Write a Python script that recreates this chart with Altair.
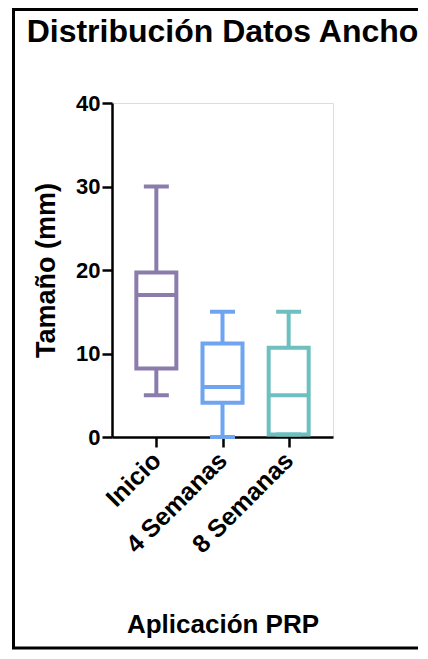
import altair as alt
import pandas as pd

categories = ["Inicio", "4 Semanas", "8 Semanas"]
mins = [5, 0, 0.3]
q1s = [8.2, 4.1, 0.3]
medians = [17, 6, 5]
q3s = [19.7, 11.2, 10.7]
maxs = [30, 15, 15]
colors = ["#8b7cab", "#6fa4f0", "#6ec0c0"]

y_ticks = [0, 10, 20, 30, 40]

df = pd.DataFrame({
    "grupo": categories,
    "min": mins,
    "q1": q1s,
    "mediana": medians,
    "q3": q3s,
    "max": maxs,
})

FONT = "Liberation Sans"
SW = 4

x_enc = alt.X(
    "grupo:N",
    sort=categories,
    scale=alt.Scale(type="point", padding=0.67),
    axis=alt.Axis(
        title="Aplicación PRP",
        titleFont=FONT, titleFontSize=26, titleFontWeight="bold", titleColor="black",
        titlePadding=54,
        labelFont=FONT, labelFontSize=25, labelFontWeight="bold", labelColor="black",
        labelAngle=-45, labelAlign="right", labelBaseline="middle", labelPadding=9,
        tickSize=10, tickWidth=2.5, tickColor="black",
        domainWidth=2.5, domainColor="black", grid=False,
    ),
)
color_enc = alt.Color("grupo:N", scale=alt.Scale(domain=categories, range=colors), legend=None)
y_scale = alt.Scale(domain=[0, 40], nice=False)
y_axis = alt.Axis(
    title="Tamaño (mm)", values=y_ticks,
    titleFont=FONT, titleFontSize=27, titleFontWeight="bold", titleColor="black",
    titlePadding=15,
    labelFont=FONT, labelFontSize=22, labelFontWeight="bold", labelColor="black",
    labelPadding=2,
    tickSize=10, tickWidth=2.5, tickColor="black",
    domainWidth=2.5, domainColor="black", grid=False,
)

base = alt.Chart(df)

box = base.mark_bar(size=40, filled=False, strokeWidth=SW, opacity=1).encode(
    x=x_enc,
    y=alt.Y("q1:Q", scale=y_scale, axis=y_axis),
    y2="q3:Q",
    stroke=color_enc,
)
upper = base.mark_rule(strokeWidth=SW, opacity=1).encode(x=x_enc, y=alt.Y("q3:Q", scale=y_scale), y2="max:Q", color=color_enc)
lower = base.mark_rule(strokeWidth=SW, opacity=1).encode(x=x_enc, y=alt.Y("min:Q", scale=y_scale), y2="q1:Q", color=color_enc)
median = base.mark_tick(size=40, thickness=SW, opacity=1).encode(x=x_enc, y=alt.Y("mediana:Q", scale=y_scale), color=color_enc)
cap_hi = base.mark_tick(size=25, thickness=SW, opacity=1).encode(x=x_enc, y=alt.Y("max:Q", scale=y_scale), color=color_enc)
cap_lo = base.mark_tick(size=25, thickness=SW, opacity=1).encode(x=x_enc, y=alt.Y("min:Q", scale=y_scale), color=color_enc)

frame = alt.Chart(alt.Data(values=[{"f": 1}])).mark_rect(
    filled=False, stroke="black", strokeWidth=3
).encode(
    x=alt.value(-98.5), x2=alt.value(340),
    y=alt.value(-93.5), y2=alt.value(545),
)

chart = alt.layer(lower, upper, cap_lo, cap_hi, box, median, frame).properties(
    width=221,
    height=334,
    title=alt.TitleParams(
        "Distribución Datos Ancho", font=FONT, fontSize=32, fontWeight="bold",
        color="black", anchor="middle", frame="group", offset=-41,
    ),
    autosize=alt.AutoSizeParams(type="none"),
    padding={"left": 104, "top": 95, "right": 85, "bottom": 213},
).configure_view(stroke=None).configure(background="white")

chart.save("out.html", embed_options={"renderer": "svg", "actions": False})
